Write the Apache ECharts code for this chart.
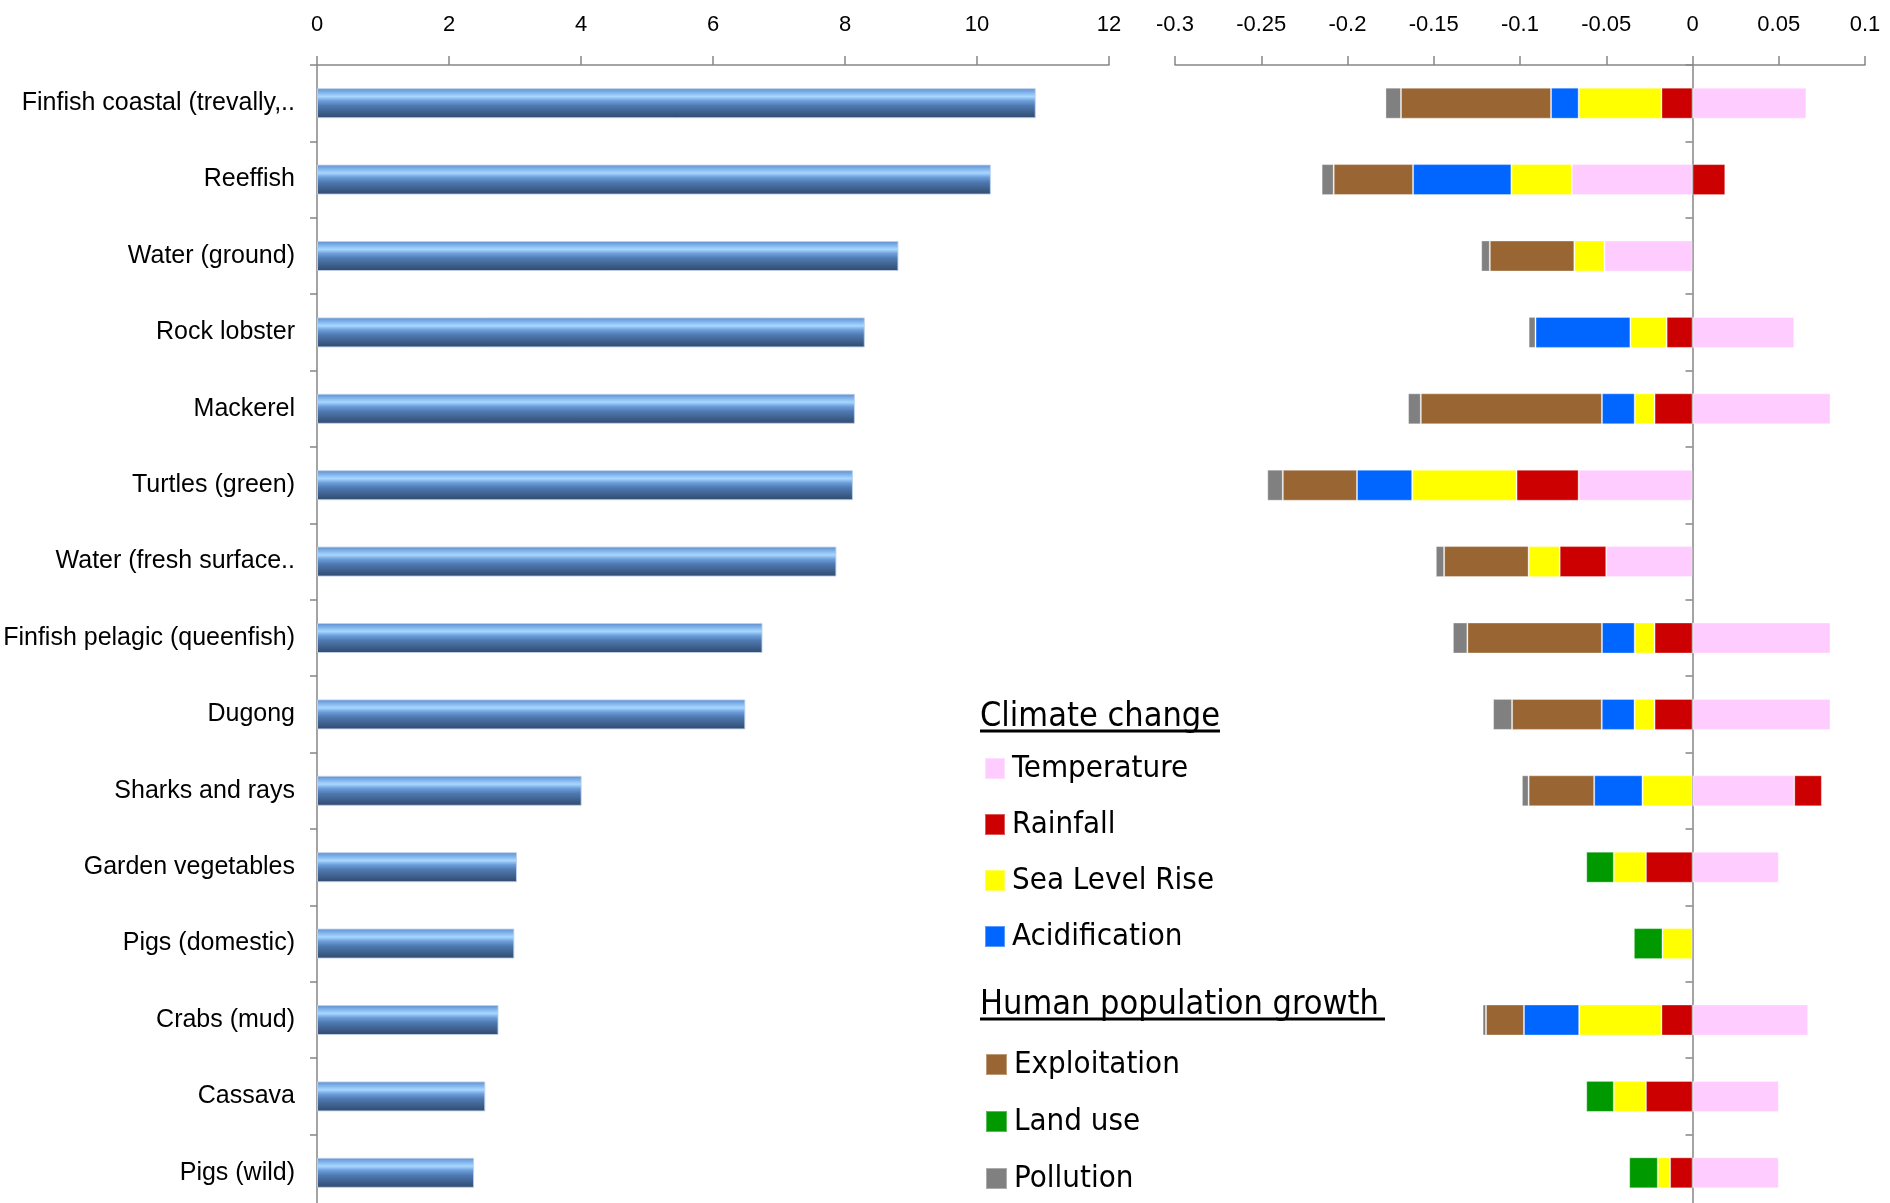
<!DOCTYPE html>
<html>
<head>
<meta charset="utf-8">
<script src="https://cdn.jsdelivr.net/npm/echarts@6/dist/echarts.min.js"></script>
<style>
  html, body { margin: 0; padding: 0; background: #fff; }
  #chart { width: 1890px; height: 1203px; }
</style>
</head>
<body>
<div id="chart"></div>
<script>
// Resources, top to bottom
const categories = [
  'Finfish coastal (trevally,..', 'Reeffish', 'Water (ground)', 'Rock lobster', 'Mackerel',
  'Turtles (green)', 'Water (fresh surface..', 'Finfish pelagic (queenfish)', 'Dugong',
  'Sharks and rays', 'Garden vegetables', 'Pigs (domestic)', 'Crabs (mud)', 'Cassava', 'Pigs (wild)'
];

// Importance score per resource (left panel)
const importance = [10.89, 10.21, 8.81, 8.30, 8.15, 8.12, 7.87, 6.75, 6.49, 4.01, 3.03, 2.99, 2.75, 2.55, 2.38];

// Projected change by driver (right panel)
const temperature  = [0.066, -0.070, -0.051, 0.059, 0.080, -0.066, -0.050, 0.080, 0.080, 0.059, 0.050, null, 0.067, 0.050, 0.050];
const rainfall     = [-0.018, 0.019, null, -0.015, -0.022, -0.036, -0.027, -0.022, -0.022, 0.016, -0.027, null, -0.018, -0.027, -0.013];
const seaLevelRise = [-0.048, -0.035, -0.0175, -0.021, -0.0115, -0.0605, -0.018, -0.0115, -0.0116, -0.029, -0.0186, -0.0174, -0.0477, -0.0186, -0.0071];
const acidification = [-0.016, -0.057, null, -0.055, -0.019, -0.032, null, -0.019, -0.019, -0.028, null, null, -0.032, null, null];
const exploitation = [-0.087, -0.046, -0.049, null, -0.105, -0.043, -0.049, -0.078, -0.052, -0.038, null, null, -0.022, null, null];
const landUse      = [null, null, null, null, null, null, null, null, null, null, -0.016, -0.0166, null, -0.016, -0.0166];
const pollution    = [-0.009, -0.007, -0.005, -0.004, -0.0074, -0.009, -0.0048, -0.0084, -0.011, -0.0039, null, null, -0.002, null, null];

// Value-axis ticks
const importanceTicks = { min: 0, max: 12, interval: 2 };
const changeTicks = { min: -0.3, max: 0.1, interval: 0.05 };

const driverSeries = [
  { name: 'Temperature', data: temperature, color: '#FFCCFF' },
  { name: 'Rainfall', data: rainfall, color: '#CC0000' },
  { name: 'Sea Level Rise', data: seaLevelRise, color: '#FFFF00' },
  { name: 'Acidification', data: acidification, color: '#0066FF' },
  { name: 'Exploitation', data: exploitation, color: '#996633' },
  { name: 'Land use', data: landUse, color: '#009900' },
  { name: 'Pollution', data: pollution, color: '#808080' }
];

const axisFont = '"Liberation Sans", Arial, sans-serif';
const legendFont = '"DejaVu Sans Condensed", "DejaVu Sans", sans-serif';
const axisGray = '#868686';

const chart = echarts.init(document.getElementById('chart'), null, { renderer: 'canvas' });

// Tube-like shading for the importance bars
const tubeGradient = new echarts.graphic.LinearGradient(0, 0, 0, 1, [
  { offset: 0.00, color: '#5b8bc8' },
  { offset: 0.10, color: '#75a8e4' },
  { offset: 0.28, color: '#a8d8ff' },
  { offset: 0.42, color: '#6d9edb' },
  { offset: 0.58, color: '#4f7bb2' },
  { offset: 0.82, color: '#3d5e8a' },
  { offset: 1.00, color: '#30496c' }
]);

const valueAxisCommon = {
  type: 'value',
  position: 'top',
  splitLine: { show: false },
  axisLine: { show: true, lineStyle: { color: axisGray, width: 1.5 } },
  axisTick: { show: true, length: 9, lineStyle: { color: axisGray, width: 1.5 } },
  axisLabel: { color: '#000', fontFamily: axisFont, fontSize: 22, margin: 29 }
};

const categoryAxisCommon = {
  type: 'category',
  data: categories,
  inverse: true,
  axisLine: { show: true, lineStyle: { color: axisGray, width: 1.5 } },
  axisTick: { show: true, length: 7, lineStyle: { color: axisGray, width: 1.5 } }
};

const option = {
  backgroundColor: '#ffffff',
  animation: false,
  grid: [
    { left: 317, top: 65, width: 792, height: 1146, containLabel: false, outerBoundsMode: 'none' },
    { left: 1175, top: 65, width: 690, height: 1146, containLabel: false, outerBoundsMode: 'none' }
  ],
  xAxis: [
    Object.assign({ gridIndex: 0 }, valueAxisCommon, importanceTicks),
    Object.assign({ gridIndex: 1 }, valueAxisCommon, changeTicks)
  ],
  yAxis: [
    Object.assign({ gridIndex: 0 }, categoryAxisCommon, {
      axisLabel: { color: '#000', fontFamily: axisFont, fontSize: 25, margin: 22 }
    }),
    Object.assign({ gridIndex: 1 }, categoryAxisCommon, {
      axisLabel: { show: false },
      axisLine: { show: true, onZero: true, lineStyle: { color: axisGray, width: 1.5 } }
    })
  ],
  legend: [
    {
      data: ['Temperature', 'Rainfall', 'Sea Level Rise', 'Acidification'],
      orient: 'vertical', left: 979, top: 748,
      icon: 'rect', itemWidth: 20, itemHeight: 21, itemGap: 25,
      textStyle: { color: '#000', fontFamily: legendFont, fontSize: 31, lineHeight: 30, padding: [0, 0, 0, 2] }
    },
    {
      data: ['Exploitation', 'Land use', 'Pollution'],
      orient: 'vertical', left: 980, top: 1044,
      icon: 'rect', itemWidth: 21, itemHeight: 21, itemGap: 26,
      textStyle: { color: '#000', fontFamily: legendFont, fontSize: 31, lineHeight: 30, padding: [0, 0, 0, 2] }
    }
  ],
  graphic: [
    { type: 'text', left: 980, top: 700, style: { text: 'Climate change', fill: '#000', font: '34px ' + legendFont } },
    { type: 'line', shape: { x1: 980, y1: 731, x2: 1220, y2: 731 }, style: { stroke: '#000', lineWidth: 3 } },
    { type: 'text', left: 980, top: 988, style: { text: 'Human population growth ', fill: '#000', font: '34px ' + legendFont } },
    { type: 'line', shape: { x1: 980, y1: 1019, x2: 1385, y2: 1019 }, style: { stroke: '#000', lineWidth: 3 } }
  ],
  series: [
    {
      name: 'Importance',
      type: 'bar',
      xAxisIndex: 0, yAxisIndex: 0,
      data: importance,
      barWidth: 30,
      itemStyle: { color: tubeGradient, borderColor: 'rgba(190,208,235,0.9)', borderWidth: 1 }
    }
  ].concat(driverSeries.map(s => ({
    name: s.name,
    type: 'bar',
    xAxisIndex: 1, yAxisIndex: 1,
    stack: 'drivers',
    data: s.data,
    barWidth: 31,
    itemStyle: { color: s.color, borderColor: 'rgba(255,255,255,0.35)', borderWidth: 1 }
  })))
};

chart.setOption(option);
</script>
</body>
</html>
